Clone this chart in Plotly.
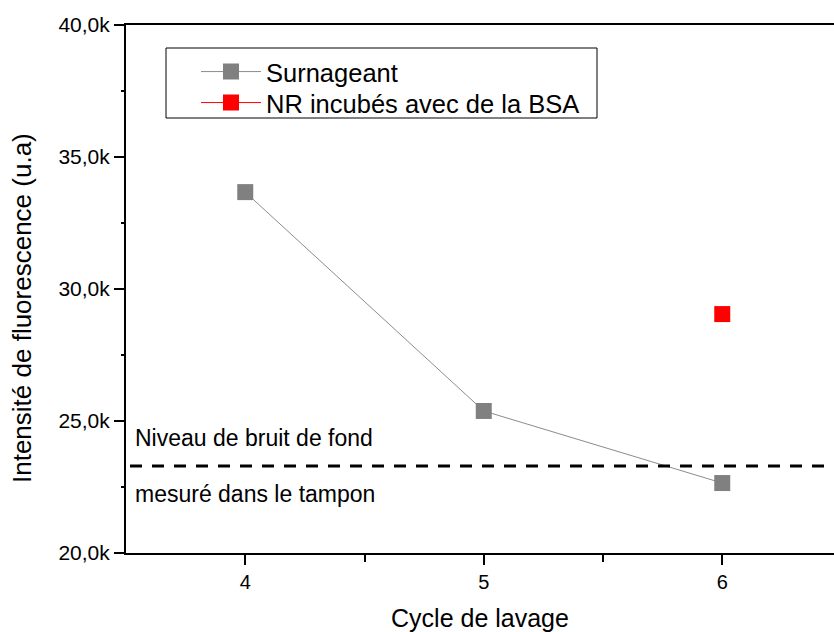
import plotly.graph_objects as go

# Fluorescence of the supernatant per washing cycle, and of the NR incubated with BSA
cycles_surnageant = [4, 5, 6]
values_surnageant = [33670, 25380, 22650]

cycles_bsa = [6]
values_bsa = [29050]

# Background level measured in the buffer
noise_level = 23300

y_tickvals = [20000, 25000, 30000, 35000, 40000]
y_ticktext = ["20,0k", "25,0k", "30,0k", "35,0k", "40,0k"]
x_tickvals = [4, 5, 6]
x_ticktext = ["4", "5", "6"]

FONT = "Liberation Sans, Arial, sans-serif"

W, H = 834, 632
ML, MR, MT, MB = 126, 0, 25, 79
pw, ph = W - ML - MR, H - MT - MB
X0 = 3.5
x_per_px = 1 / 238.5
X1 = X0 + pw * x_per_px


def px_x(px):
    return (px - ML) / pw


def px_y(py):
    return (H - MB - py) / ph


fig = go.Figure()

fig.add_trace(go.Scatter(
    x=cycles_surnageant, y=values_surnageant,
    mode="lines+markers", name="Surnageant", legend="legend",
    line=dict(color="#8c8c8c", width=1),
    marker=dict(symbol="square", size=16, color="#808080"),
))
fig.add_trace(go.Scatter(
    x=cycles_bsa, y=values_bsa,
    mode="lines+markers", name="NR incubés avec de la BSA", legend="legend2",
    line=dict(color="#ff0000", width=1),
    marker=dict(symbol="square", size=16, color="#ff0000"),
))

# dashed background level
fig.add_shape(type="line", xref="x", yref="y",
              x0=X0 + 4 * x_per_px, x1=X1, y0=noise_level, y1=noise_level,
              line=dict(color="black", width=3, dash="12px,10px"))

# legend frame
fig.add_shape(type="rect", xref="paper", yref="paper",
              x0=px_x(166), x1=px_x(597), y0=px_y(118), y1=px_y(48),
              line=dict(color="black", width=1), fillcolor="rgba(0,0,0,0)")

fig.add_annotation(text="Niveau de bruit de fond", x=px_x(133), y=px_y(438),
                   xref="paper", yref="paper", xanchor="left", yanchor="middle",
                   showarrow=False, font=dict(family=FONT, size=23, color="black"))
fig.add_annotation(text="mesuré dans le tampon", x=px_x(133), y=px_y(494),
                   xref="paper", yref="paper", xanchor="left", yanchor="middle",
                   showarrow=False, font=dict(family=FONT, size=23, color="black"))

# y axis title
fig.add_annotation(text="Intensité de fluorescence (u.a)", x=px_x(22), y=px_y(308),
                   xref="paper", yref="paper", xanchor="center", yanchor="middle",
                   textangle=-90, showarrow=False,
                   font=dict(family=FONT, size=26, color="black"))

legend_style = dict(
    xanchor="left", yanchor="middle",
    bgcolor="rgba(0,0,0,0)", borderwidth=0,
    font=dict(family=FONT, size=25.5, color="black"),
    itemwidth=60, tracegroupgap=0,
)

fig.update_layout(
    width=W, height=H,
    margin=dict(l=ML, r=MR, t=MT, b=MB, pad=0),
    paper_bgcolor="white", plot_bgcolor="white",
    font=dict(family=FONT, color="black"),
    showlegend=True,
    legend=dict(x=px_x(196), y=px_y(72), **legend_style),
    legend2=dict(x=px_x(196), y=px_y(103), **legend_style),
)

fig.update_xaxes(
    range=[X0, X1], showgrid=False, zeroline=False,
    showline=True, linecolor="black", linewidth=2, mirror=True,
    tickvals=x_tickvals, ticktext=x_ticktext,
    ticks="outside", ticklen=10, tickwidth=2, tickcolor="black",
    minor=dict(tickvals=[4.5, 5.5], ticks="outside", ticklen=7, tickwidth=2, tickcolor="black"),
    tickfont=dict(family=FONT, size=20, color="black"),
    title=dict(text="Cycle de lavage", font=dict(family=FONT, size=25, color="black"), standoff=20),
)
fig.update_yaxes(
    range=[20000, 40000], showgrid=False, zeroline=False,
    showline=True, linecolor="black", linewidth=2, mirror=False,
    tickvals=y_tickvals, ticktext=y_ticktext,
    ticks="outside", ticklen=10, tickwidth=2, tickcolor="black",
    minor=dict(tickvals=[22500, 27500, 32500, 37500], ticks="outside", ticklen=3, tickwidth=2, tickcolor="black"),
    tickfont=dict(family=FONT, size=21, color="black"),
)

fig.write_html("out.html")
